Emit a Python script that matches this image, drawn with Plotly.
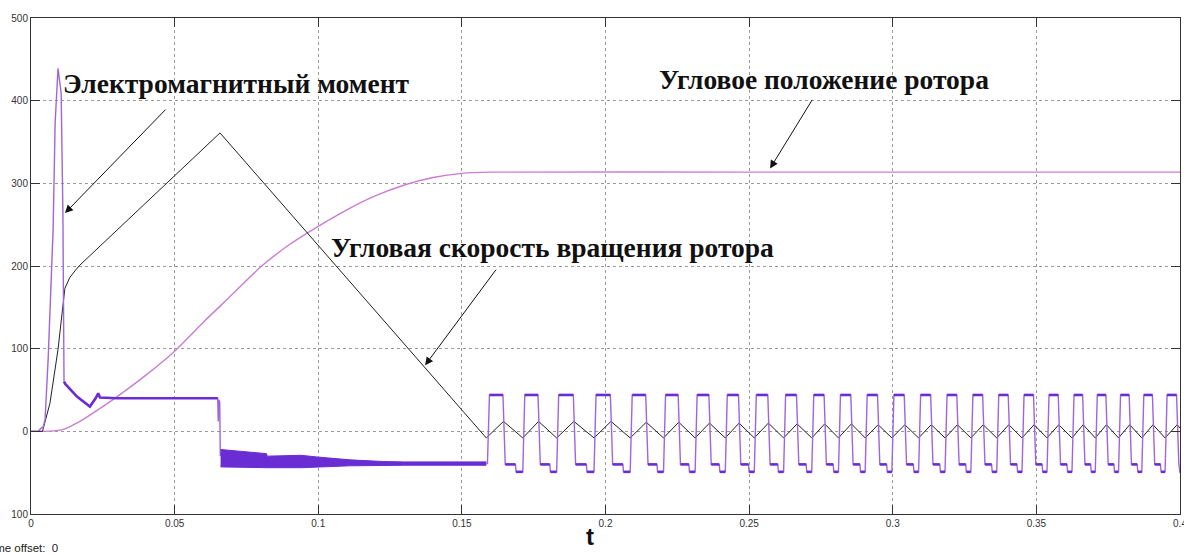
import plotly.graph_objects as go

# ---------------- data ----------------
# Electromagnetic torque, start-up part
torque_t_start = [0, 0.0025, 0.0035, 0.0042, 0.0049, 0.0060, 0.0077, 0.0084, 0.0094, 0.0100,
                  0.0105, 0.0111, 0.0115, 0.0120, 0.0160, 0.0205, 0.0225, 0.0234, 0.0240,
                  0.0300, 0.0400, 0.0500, 0.0600, 0.0650, 0.0652, 0.0654, 0.0657, 0.0659]
torque_v_start = [0, 0, 4, 5, 14, 90, 244, 373, 439, 425,
                  409, 265, 60, 57, 42, 30, 40, 46, 41,
                  40, 40, 40, 40, 40, 12, 38, 36, -30]

# Torque high-frequency band (upper / lower envelope) during braking
band_t = [0.0660, 0.0820, 0.0822, 0.0940, 0.0995, 0.1110, 0.1226, 0.1300, 0.1585]
band_upper = [-22, -27, -30, -29, -31, -34.5, -36.5, -37, -37]
band_lower = [-43, -44.5, -44, -44, -43.3, -41.7, -41.3, -41, -41]

# Torque square-wave after t = 0.16: rising / falling edge times
osc_rise = [0.1589, 0.1712, 0.1830, 0.1960, 0.2086, 0.2202, 0.2312, 0.2417, 0.2518, 0.2620,
            0.2718, 0.2811, 0.2904, 0.2997, 0.3090, 0.3182, 0.3272, 0.3362, 0.3450, 0.3537,
            0.3624, 0.3705, 0.3786, 0.3867, 0.3948]
osc_fall = [0.1645, 0.1767, 0.1890, 0.2019, 0.2142, 0.2255, 0.2362, 0.2465, 0.2567, 0.2667,
            0.2763, 0.2856, 0.2949, 0.3042, 0.3134, 0.3225, 0.3315, 0.3404, 0.3492, 0.3578,
            0.3663, 0.3744, 0.3825, 0.3906, 0.3990]
torque_high = 44
torque_low = -40
torque_dip = -49

# Angular speed of the rotor
speed_t_start = [0, 0.004, 0.0066, 0.0094, 0.0118, 0.0135, 0.0155, 0.0170, 0.0658, 0.1585]
speed_v_start = [0, 0, 34, 99, 173, 186, 195, 201, 361, -8]
speed_osc_max = [12, 12, 12, 12, 11, 11, 10, 10, 10, 9, 9, 9, 8, 8, 8, 8, 8, 8, 8, 8, 8, 8, 8, 8, 8]
speed_osc_min = -8

# Angular position of the rotor
pos_t = [0, 0.004, 0.008, 0.0118, 0.017, 0.0229, 0.030, 0.040, 0.050, 0.060, 0.0693, 0.080,
         0.090, 0.100, 0.110, 0.120, 0.130, 0.140, 0.150, 0.160, 0.250, 0.400]
pos_v = [0, 0, 0.5, 3, 12, 25, 42, 68, 97, 132, 163, 199,
         226, 248, 268, 285, 298, 307, 312, 313.5, 313.5, 313.5]

x_ticks = [0, 0.05, 0.1, 0.15, 0.2, 0.25, 0.3, 0.35, 0.4]
x_labels = ["0", "0.05", "0.1", "0.15", "0.2", "0.25", "0.3", "0.35", "0.4"]
y_ticks = [-100, 0, 100, 200, 300, 400, 500]
y_labels = ["100", "0", "100", "200", "300", "400", "500"]

# ---------------- build polylines ----------------
EDGE_R = 0.0007
EDGE_F = 0.0006
osc_t, osc_v = [0.1585], [-39]
flat_t, flat_v = [], []
sp_t, sp_v = list(speed_t_start), list(speed_v_start)
for i, (r, f) in enumerate(zip(osc_rise, osc_fall)):
    nxt = osc_rise[i + 1] if i + 1 < len(osc_rise) else 0.4
    d = f + 0.62 * (nxt - f)
    osc_t += [r, r + EDGE_R, f - 0.0002, f + EDGE_F]
    osc_v += [torque_dip if i else -39, torque_high, torque_high, torque_low]
    flat_t += [r + EDGE_R, f - 0.0002, None]
    flat_v += [torque_high, torque_high, None]
    if f + EDGE_F < 0.4:
        osc_t += [d, d + 0.0002, nxt]
        osc_v += [torque_low, torque_dip, torque_dip]
        flat_t += [f + EDGE_F, d, None, d + 0.0002, nxt, None]
        flat_v += [torque_low, torque_low, None, torque_dip, torque_dip, None]
    if i:
        sp_t.append(r)
        sp_v.append(speed_osc_min)
    sp_t.append(f)
    sp_v.append(speed_osc_max[i])
sp_t.append(0.4)
sp_v.append(speed_osc_max[-1] - 4)

TORQ_DARK = "#6A2CD3"
TORQ_LIGHT = "#9D66DC"
POS_COL = "#C97ED3"

fig = go.Figure()

# position
fig.add_trace(go.Scatter(x=pos_t, y=pos_v, mode="lines",
                         line=dict(color=POS_COL, width=1.4, shape="spline", smoothing=0.6),
                         hoverinfo="skip"))
# speed
fig.add_trace(go.Scatter(x=sp_t, y=sp_v, mode="lines", line=dict(color="#222222", width=1),
                         hoverinfo="skip"))
# torque start-up
fig.add_trace(go.Scatter(x=torque_t_start, y=torque_v_start, mode="lines",
                         line=dict(color=TORQ_LIGHT, width=1.4), hoverinfo="skip"))
fig.add_trace(go.Scatter(x=torque_t_start[12:24], y=torque_v_start[12:24], mode="lines",
                         line=dict(color=TORQ_DARK, width=2.6), hoverinfo="skip"))
# torque band
fig.add_trace(go.Scatter(x=band_t, y=band_lower, mode="lines", line=dict(color=TORQ_DARK, width=1),
                         hoverinfo="skip"))
fig.add_trace(go.Scatter(x=band_t, y=band_upper, mode="lines", line=dict(color=TORQ_DARK, width=1),
                         fill="tonexty", fillcolor=TORQ_DARK, hoverinfo="skip"))
# torque oscillation
fig.add_trace(go.Scatter(x=osc_t, y=osc_v, mode="lines", line=dict(color=TORQ_LIGHT, width=1.4),
                         hoverinfo="skip"))
fig.add_trace(go.Scatter(x=flat_t, y=flat_v, mode="lines", line=dict(color=TORQ_DARK, width=2.6),
                         connectgaps=False, hoverinfo="skip"))

label_font = dict(family="Liberation Serif, Times New Roman, serif", size=27.5, color="#111111")
fig.add_annotation(x=0.0714, y=421, text="<b>Электромагнитный момент</b>", showarrow=False, font=label_font)
fig.add_annotation(x=0.2761, y=426, text="<b>Угловое положение ротора</b>", showarrow=False, font=label_font)
fig.add_annotation(x=0.1814, y=222, text="<b>Угловая скорость вращения ротора</b>", showarrow=False, font=label_font)

arrow_kw = dict(text="", showarrow=True, arrowhead=2, arrowsize=1.6, arrowwidth=1, arrowcolor="#111111",
                axref="pixel", ayref="pixel")
fig.add_annotation(x=0.01184, y=264, ax=102, ay=-105, **arrow_kw)
fig.add_annotation(x=0.2573, y=318, ax=43, ay=-70, **arrow_kw)
fig.add_annotation(x=0.1372, y=80, ax=72, ay=-97, **arrow_kw)

fig.add_annotation(xref="paper", yref="paper", x=0.4865, y=-0.076, text="<b>t</b>", showarrow=False,
                   font=dict(family="Liberation Sans", size=24, color="#111111"))
fig.add_annotation(xref="paper", yref="paper", x=-0.0409, y=-0.085, xanchor="left", text="Time offset:  0",
                   showarrow=False, font=dict(family="Liberation Sans", size=11.5, color="#222222"))

axis_common = dict(showline=True, linecolor="#333333", linewidth=1, mirror="ticks", ticks="inside",
                   ticklen=9, tickcolor="#333333", showgrid=True, gridcolor="#9a9a9a", griddash="dot",
                   gridwidth=1, zeroline=False, automargin=False, ticklabeloverflow="allow",
                   tickfont=dict(family="Liberation Sans", size=10, color="#333333"))
fig.update_xaxes(range=[0, 0.4], tickvals=x_ticks, ticktext=x_labels, **axis_common)
fig.update_yaxes(range=[-100, 500], tickvals=y_ticks, ticktext=y_labels, **axis_common)

fig.update_layout(width=1184, height=554, margin=dict(l=31, r=4, t=18, b=40),
                  paper_bgcolor="white", plot_bgcolor="white", showlegend=False)

fig.write_html("out.html", config={"displayModeBar": False},
               post_script="document.body.style.margin='0';document.body.style.overflow='hidden';")
